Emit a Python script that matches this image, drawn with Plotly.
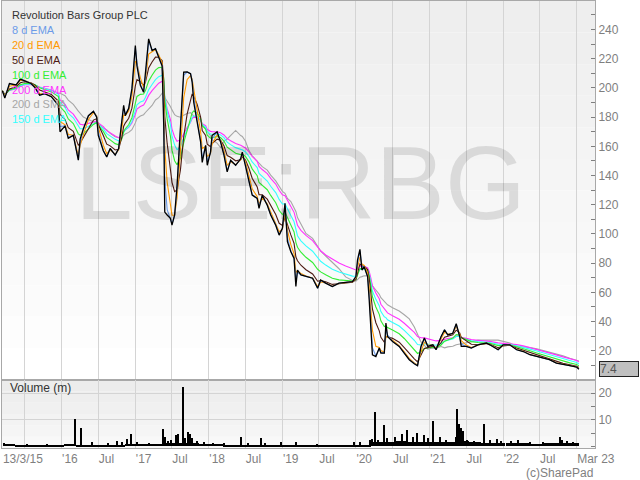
import numpy as np
import pandas as pd
import plotly.graph_objects as go

# ---------------- data ----------------
price_dates = [
    "2015-03-13", "2015-03-25", "2015-04-17", "2015-05-20", "2015-06-10", "2015-07-01",
    "2015-08-02", "2015-08-20", "2015-09-14", "2015-10-09", "2015-11-11", "2015-12-16",
    "2015-12-24", "2016-01-18", "2016-02-03", "2016-02-28", "2016-03-24", "2016-04-02",
    "2016-04-18", "2016-05-13", "2016-06-07", "2016-06-23", "2016-07-01", "2016-07-26",
    "2016-08-12", "2016-08-29", "2016-09-23", "2016-10-10", "2016-10-26", "2016-11-04",
    "2016-11-12", "2016-11-29", "2016-12-15", "2017-01-01", "2017-01-09", "2017-01-26",
    "2017-02-11", "2017-02-20", "2017-03-08", "2017-03-25", "2017-04-11", "2017-04-27",
    "2017-05-14", "2017-05-22", "2017-05-27", "2017-06-08", "2017-06-24", "2017-07-02",
    "2017-07-15", "2017-07-27", "2017-08-13", "2017-08-29", "2017-09-15", "2017-10-02",
    "2017-10-10", "2017-10-18", "2017-11-04", "2017-11-21", "2017-11-29", "2017-12-16",
    "2017-12-24", "2018-01-09", "2018-01-17", "2018-02-11", "2018-02-28", "2018-03-17",
    "2018-04-02", "2018-04-19", "2018-05-14", "2018-06-08", "2018-06-16", "2018-07-02",
    "2018-07-19", "2018-08-04", "2018-08-29", "2018-09-07", "2018-09-23", "2018-10-18",
    "2018-11-04", "2018-11-29", "2018-12-16", "2019-01-01", "2019-01-14", "2019-01-26",
    "2019-02-12", "2019-02-28", "2019-03-09", "2019-03-17", "2019-04-03", "2019-04-28",
    "2019-05-31", "2019-06-25", "2019-07-10", "2019-08-04", "2019-09-06", "2019-10-09",
    "2019-11-11", "2019-12-15", "2020-01-01", "2020-01-09", "2020-01-21", "2020-01-31",
    "2020-02-11", "2020-02-28", "2020-03-07", "2020-03-15", "2020-03-23", "2020-04-09",
    "2020-04-26", "2020-05-04", "2020-05-21", "2020-05-29", "2020-06-06", "2020-07-01",
    "2020-08-03", "2020-08-28", "2020-09-22", "2020-10-17", "2020-11-02", "2020-11-19",
    "2020-12-06", "2020-12-23", "2021-01-17", "2021-02-02", "2021-02-27", "2021-03-16",
    "2021-04-01", "2021-04-26", "2021-05-13", "2021-05-30", "2021-06-07", "2021-07-02",
    "2021-07-27", "2021-08-29", "2021-10-10", "2021-10-27", "2021-12-07", "2022-01-01",
    "2022-02-03", "2022-03-09", "2022-04-11", "2022-05-14", "2022-06-17", "2022-07-17",
    "2022-08-19", "2022-09-22", "2022-10-25", "2022-11-28", "2023-01-01", "2023-01-12",
]
price_values = [
    198, 193, 203, 202, 206, 205,
    203, 200.5, 195, 196, 194, 188,
    170, 174, 165.5, 167.5, 150.5, 165,
    172, 181, 184, 180, 167.5, 157,
    152.7, 158.5, 154, 158.5, 179, 188,
    181, 186, 199.5, 229, 215, 201.7,
    197, 208.5, 233.6, 225.6, 226.8, 221,
    215, 174, 115, 113, 110.7, 106,
    113, 133, 174, 210.8, 211, 209.7,
    204, 190, 176.6, 163, 149, 160.7,
    147, 156, 167.5, 170, 163, 154,
    142.5, 150.5, 147, 151.6, 156, 147,
    135.7, 126.6, 124.3, 117.5, 126.6, 119.7,
    113, 106, 99.2, 103.8, 121, 94.7,
    87.8, 83.3, 64, 75.3, 72, 70.8,
    69.7, 62.8, 68.5, 66.3, 64, 66.3,
    66.7, 67.4, 70.8, 82.2, 89.5, 75.3,
    77.6, 70.8, 54.8, 32, 17.3, 16.1,
    21.9, 18.4, 18.4, 39, 29.8, 26.4,
    23, 18.4, 13.9, 11.1, 9.8, 23,
    28.7, 23, 24.1, 20.7, 29.8, 34.4,
    30.9, 32, 38.5, 29.8, 23, 23,
    21.9, 24.1, 25.3, 24.1, 20.7, 24.1,
    24.1, 20.7, 19.5, 17.3, 16.1, 15,
    13.9, 11.6, 10.5, 9.8, 8.9, 7.4,
]

# background volume level (millions), two-monthly
vol_base_dates = [
    "2015-04-13", "2015-06-13", "2015-08-13", "2015-10-13", "2015-12-13",
    "2016-02-13", "2016-04-13", "2016-06-13", "2016-08-13", "2016-10-13", "2016-12-13",
    "2017-02-13", "2017-04-13", "2017-06-13", "2017-08-13", "2017-10-13", "2017-12-13",
    "2018-02-13", "2018-04-13", "2018-06-13", "2018-08-13", "2018-10-13", "2018-12-13",
    "2019-02-13", "2019-04-13", "2019-06-13", "2019-08-13", "2019-10-13", "2019-12-13",
    "2020-02-13", "2020-04-13", "2020-06-13", "2020-08-13", "2020-10-13", "2020-12-13",
    "2021-02-13", "2021-04-13", "2021-06-13", "2021-08-13", "2021-10-13", "2021-12-13",
    "2022-02-13", "2022-04-13", "2022-06-13", "2022-08-13", "2022-10-13", "2022-12-13",
]
vol_base_values = [
    0.8, 0.6, 0.6, 0.6, 0.6,
    0.8, 0.7, 0.6, 0.6, 0.7, 0.8,
    0.9, 0.9, 1.2, 1.4, 1.2, 0.9,
    0.8, 0.7, 0.7, 0.7, 0.7, 0.7,
    0.7, 0.6, 0.5, 0.5, 0.5, 0.5,
    0.7, 1.6, 1.8, 1.9, 1.8, 1.8,
    1.8, 1.7, 2.0, 1.5, 1.4, 1.2,
    1.2, 1.1, 1.0, 1.1, 1.3, 1.2,
]

# individual high-volume days (millions)
vol_spike_dates = [
    "2015-03-20", "2015-07-15", "2015-10-20", "2016-03-08", "2016-04-05", "2016-06-01",
    "2016-08-20", "2016-10-04", "2016-10-25", "2016-11-20", "2016-12-12", "2017-01-10",
    "2017-03-10", "2017-05-20", "2017-05-27", "2017-06-10", "2017-06-27", "2017-07-23",
    "2017-08-03", "2017-08-24", "2017-09-03", "2017-09-19", "2017-10-01", "2017-10-10",
    "2017-11-05", "2017-12-10", "2018-01-20", "2018-03-15", "2018-06-10", "2018-07-15",
    "2018-09-15", "2018-10-05", "2018-12-25", "2019-03-10", "2019-06-20", "2019-12-25",
    "2020-01-22", "2020-03-10", "2020-03-20", "2020-04-04", "2020-04-20", "2020-05-21",
    "2020-06-05", "2020-07-15", "2020-08-15", "2020-09-12", "2020-10-10", "2020-10-30",
    "2020-12-05", "2020-12-25", "2021-01-17", "2021-02-20", "2021-03-25", "2021-05-10",
    "2021-05-18", "2021-05-28", "2021-06-08", "2021-06-15", "2021-07-05", "2021-08-10",
    "2021-09-26", "2021-10-30", "2021-11-30", "2021-12-20", "2022-02-10", "2022-03-15",
    "2022-05-15", "2022-07-20", "2022-10-10", "2022-10-20", "2022-11-15", "2022-12-15",
]
vol_spike_values = [
    1.2, 1.0, 1.0, 10.4, 7.0, 1.5,
    1.4, 2.0, 1.6, 2.9, 4.8, 1.5,
    1.4, 6.6, 3.4, 2.0, 2.3, 4.2,
    4.8, 22.5, 3.2, 5.4, 4.8, 3.2,
    2.0, 1.5, 1.4, 1.2, 3.5, 1.3,
    3.1, 1.4, 1.6, 1.5, 1.0, 1.6,
    1.5, 2.3, 2.8, 12.9, 2.5, 7.9,
    3.0, 3.5, 4.8, 6.0, 3.5, 5.0,
    4.2, 3.0, 9.4, 3.5, 2.5, 3.6,
    14.2, 8.3, 7.0, 5.9, 2.3, 2.0,
    8.3, 2.3, 2.9, 2.2, 2.0, 2.3,
    1.8, 1.6, 3.5, 2.6, 2.0, 1.6,
]

grid_dates = ["2015-07-01", "2016-01-01", "2016-07-01", "2017-01-01", "2017-07-01",
              "2018-01-01", "2018-07-01", "2019-01-01", "2019-07-01", "2020-01-01",
              "2020-07-01", "2021-01-01", "2021-07-01", "2022-01-01", "2022-07-01",
              "2023-01-01"]
label_dates = ["2015-03-13"] + grid_dates
label_texts = ["13/3/15", "", "'16", "Jul", "'17", "Jul", "'18", "Jul", "'19", "Jul",
               "'20", "Jul", "'21", "Jul", "'22", "Jul", "Mar 23"]
price_ticks = [20, 40, 60, 80, 100, 120, 140, 160, 180, 200, 220, 240]
price_grid = [50, 100, 150, 200, 250]
vol_ticks = [10, 20]
last_price = 7.4

# ---------------- indicators ----------------
s = pd.Series(price_values, index=pd.to_datetime(price_dates))


def ema(n):
    alpha = 2.0 / (n + 1)
    hl_days = np.log(0.5) / np.log(1 - alpha) * 7 / 5
    return s.ewm(halflife=pd.Timedelta(days=hl_days), times=s.index).mean()


sma200 = s.rolling("280D").mean()
sma200 = sma200[sma200.index >= s.index[0] + pd.Timedelta(days=280)]

FONT = "Liberation Sans, Arial, sans-serif"
GRID = "#d4d4d4"
BORDER = "#a8a8a8"
TICKC = "#7f7f7f"

fig = go.Figure()

lines = [
    (sma200, "#a6a6a6", "200 d SMA"),
    (ema(200), "#ff33ff", "200 d EMA"),
    (ema(150), "#33ffff", "150 d EMA"),
    (ema(100), "#33ee33", "100 d EMA"),
    (ema(50), "#4d1a12", "50 d EMA"),
    (ema(20), "#ff9900", "20 d EMA"),
    (ema(8), "#6b9be8", "8 d EMA"),
]
for ser, col, nm in lines:
    fig.add_trace(go.Scatter(x=ser.index, y=ser.values, mode="lines", name=nm,
                             line=dict(color=col, width=1.1), xaxis="x", yaxis="y",
                             showlegend=False, hoverinfo="skip"))
fig.add_trace(go.Scatter(x=s.index, y=s.values, mode="lines", name="Price",
                         line=dict(color="#000000", width=1.3), xaxis="x", yaxis="y",
                         showlegend=False))

fig.add_trace(go.Bar(x=pd.to_datetime(vol_base_dates), y=vol_base_values,
                     width=61 * 86400000, marker=dict(color="#000000", line=dict(width=0)),
                     xaxis="x2", yaxis="y2", showlegend=False))
fig.add_trace(go.Bar(x=pd.to_datetime(vol_spike_dates), y=vol_spike_values,
                     width=5 * 86400000, marker=dict(color="#000000", line=dict(width=0)),
                     xaxis="x2", yaxis="y2", showlegend=False))

# panel background gradients
shapes = []
nb = 12
for i in range(nb):
    g = int(238 + (255 - 238) * i / (nb - 1))
    shapes.append(dict(type="rect", xref="x domain", yref="y domain", x0=0, x1=1,
                       y0=1 - (i + 1) / nb, y1=1 - i / nb, layer="below",
                       line=dict(width=0), fillcolor=f"rgb({g},{g},{g})"))
for i in range(6):
    g = int(236 + (248 - 236) * i / 5)
    shapes.append(dict(type="rect", xref="x2 domain", yref="y2 domain", x0=0, x1=1,
                       y0=1 - (i + 1) / 6, y1=1 - i / 6, layer="below",
                       line=dict(width=0), fillcolor=f"rgb({g},{g},{g})"))

VD = 68 / 447
x_range = ["2015-03-11", "2023-04-02"]

fig.update_layout(
    width=640, height=480,
    margin=dict(l=2, r=45, t=1, b=32),
    paper_bgcolor="white", plot_bgcolor="white",
    barmode="overlay", bargap=0,
    font=dict(family=FONT, size=12, color=TICKC),
    shapes=shapes,
    xaxis=dict(domain=[0, 1], anchor="y", range=x_range, type="date",
               tickvals=grid_dates, showticklabels=False, ticks="",
               showgrid=True, gridcolor=GRID, gridwidth=1, zeroline=False,
               showline=True, mirror=True, linecolor=BORDER, automargin=False),
    xaxis2=dict(domain=[0, 1], anchor="y2", range=x_range, type="date", matches="x",
                tickvals=label_dates, ticktext=label_texts, ticks="",
                ticklabelposition="outside right",
                tickfont=dict(family=FONT, size=12, color=TICKC),
                showgrid=True, gridcolor=GRID, gridwidth=1, zeroline=False,
                showline=True, mirror=True, linecolor=BORDER, automargin=False),
    yaxis=dict(domain=[VD, 1], anchor="x", side="right", range=[0, 259.5],
               tickvals=price_ticks, ticks="inside", ticklen=4, tickcolor=TICKC,
               minor=dict(dtick=10, tick0=0, ticks="inside", ticklen=4, tickcolor=TICKC,
                          showgrid=False),
               tickfont=dict(family=FONT, size=12, color=TICKC),
               showgrid=False, zeroline=False, showline=True, mirror=True,
               linecolor=BORDER, automargin=False),
    yaxis3=dict(overlaying="y", anchor="x", side="right", range=[0, 259.5],
                tickvals=price_grid, showticklabels=False, ticks="",
                showgrid=True, gridcolor=GRID, gridwidth=1, zeroline=False,
                showline=False),
    yaxis2=dict(domain=[0, VD], anchor="x2", side="right", range=[-0.6, 25],
                tickvals=vol_ticks, ticks="inside", ticklen=4, tickcolor=TICKC,
                minor=dict(dtick=5, tick0=0, ticks="inside", ticklen=4, tickcolor=TICKC,
                           showgrid=False),
                tickfont=dict(family=FONT, size=12, color=TICKC),
                showgrid=True, gridcolor=GRID, gridwidth=1, zeroline=False,
                showline=True, mirror=True, linecolor=BORDER, automargin=False),
)

ann = []
# watermark
ann.append(dict(text="LSE:RBG", xref="paper", yref="paper", x=0.504, y=0.593,
                xanchor="center", yanchor="middle", showarrow=False,
                font=dict(family=FONT, size=104, color="rgba(0,0,0,0.11)")))
# legend-like texts
legend_items = [("Revolution Bars Group PLC", "#333333"), ("8 d EMA", "#6b9be8"),
                ("20 d EMA", "#ff9900"), ("50 d EMA", "#4d1a12"),
                ("100 d EMA", "#33ee33"), ("200 d EMA", "#ff33ff"),
                ("200 d SMA", "#a6a6a6"), ("150 d EMA", "#33ffff")]
for i, (txt, col) in enumerate(legend_items):
    ypx = 15 + i * 14.9
    ann.append(dict(text=txt, xref="paper", yref="paper", x=7.5 / 593,
                    y=(447 - (ypx - 1)) / 447, xanchor="left", yanchor="middle",
                    showarrow=False, font=dict(family=FONT, size=11, color=col)))
ann.append(dict(text="Volume (m)", xref="paper", yref="paper", x=6 / 593,
                y=(447 - 387) / 447, xanchor="left", yanchor="middle", showarrow=False,
                font=dict(family=FONT, size=12, color="#333333")))
ann.append(dict(text="(c)SharePad", xref="paper", yref="paper", x=1.0,
                y=(447 - 472) / 447, xanchor="right", yanchor="middle", showarrow=False,
                font=dict(family=FONT, size=12, color=TICKC)))
ann.append(dict(text=f"{last_price}", xref="paper", yref="y", x=1.0, y=last_price,
                xshift=4, xanchor="left", yanchor="middle", showarrow=False,
                bgcolor="#c0c0c0", bordercolor="#222222", borderwidth=1,
                width=38, align="left", borderpad=0,
                font=dict(family=FONT, size=12, color="#555555")))
fig.update_layout(annotations=ann)

fig.write_html("out.html", config={"displayModeBar": False},
               post_script="document.body.style.margin='0';document.body.style.padding='0';"
                           "document.documentElement.style.overflow='hidden';")
